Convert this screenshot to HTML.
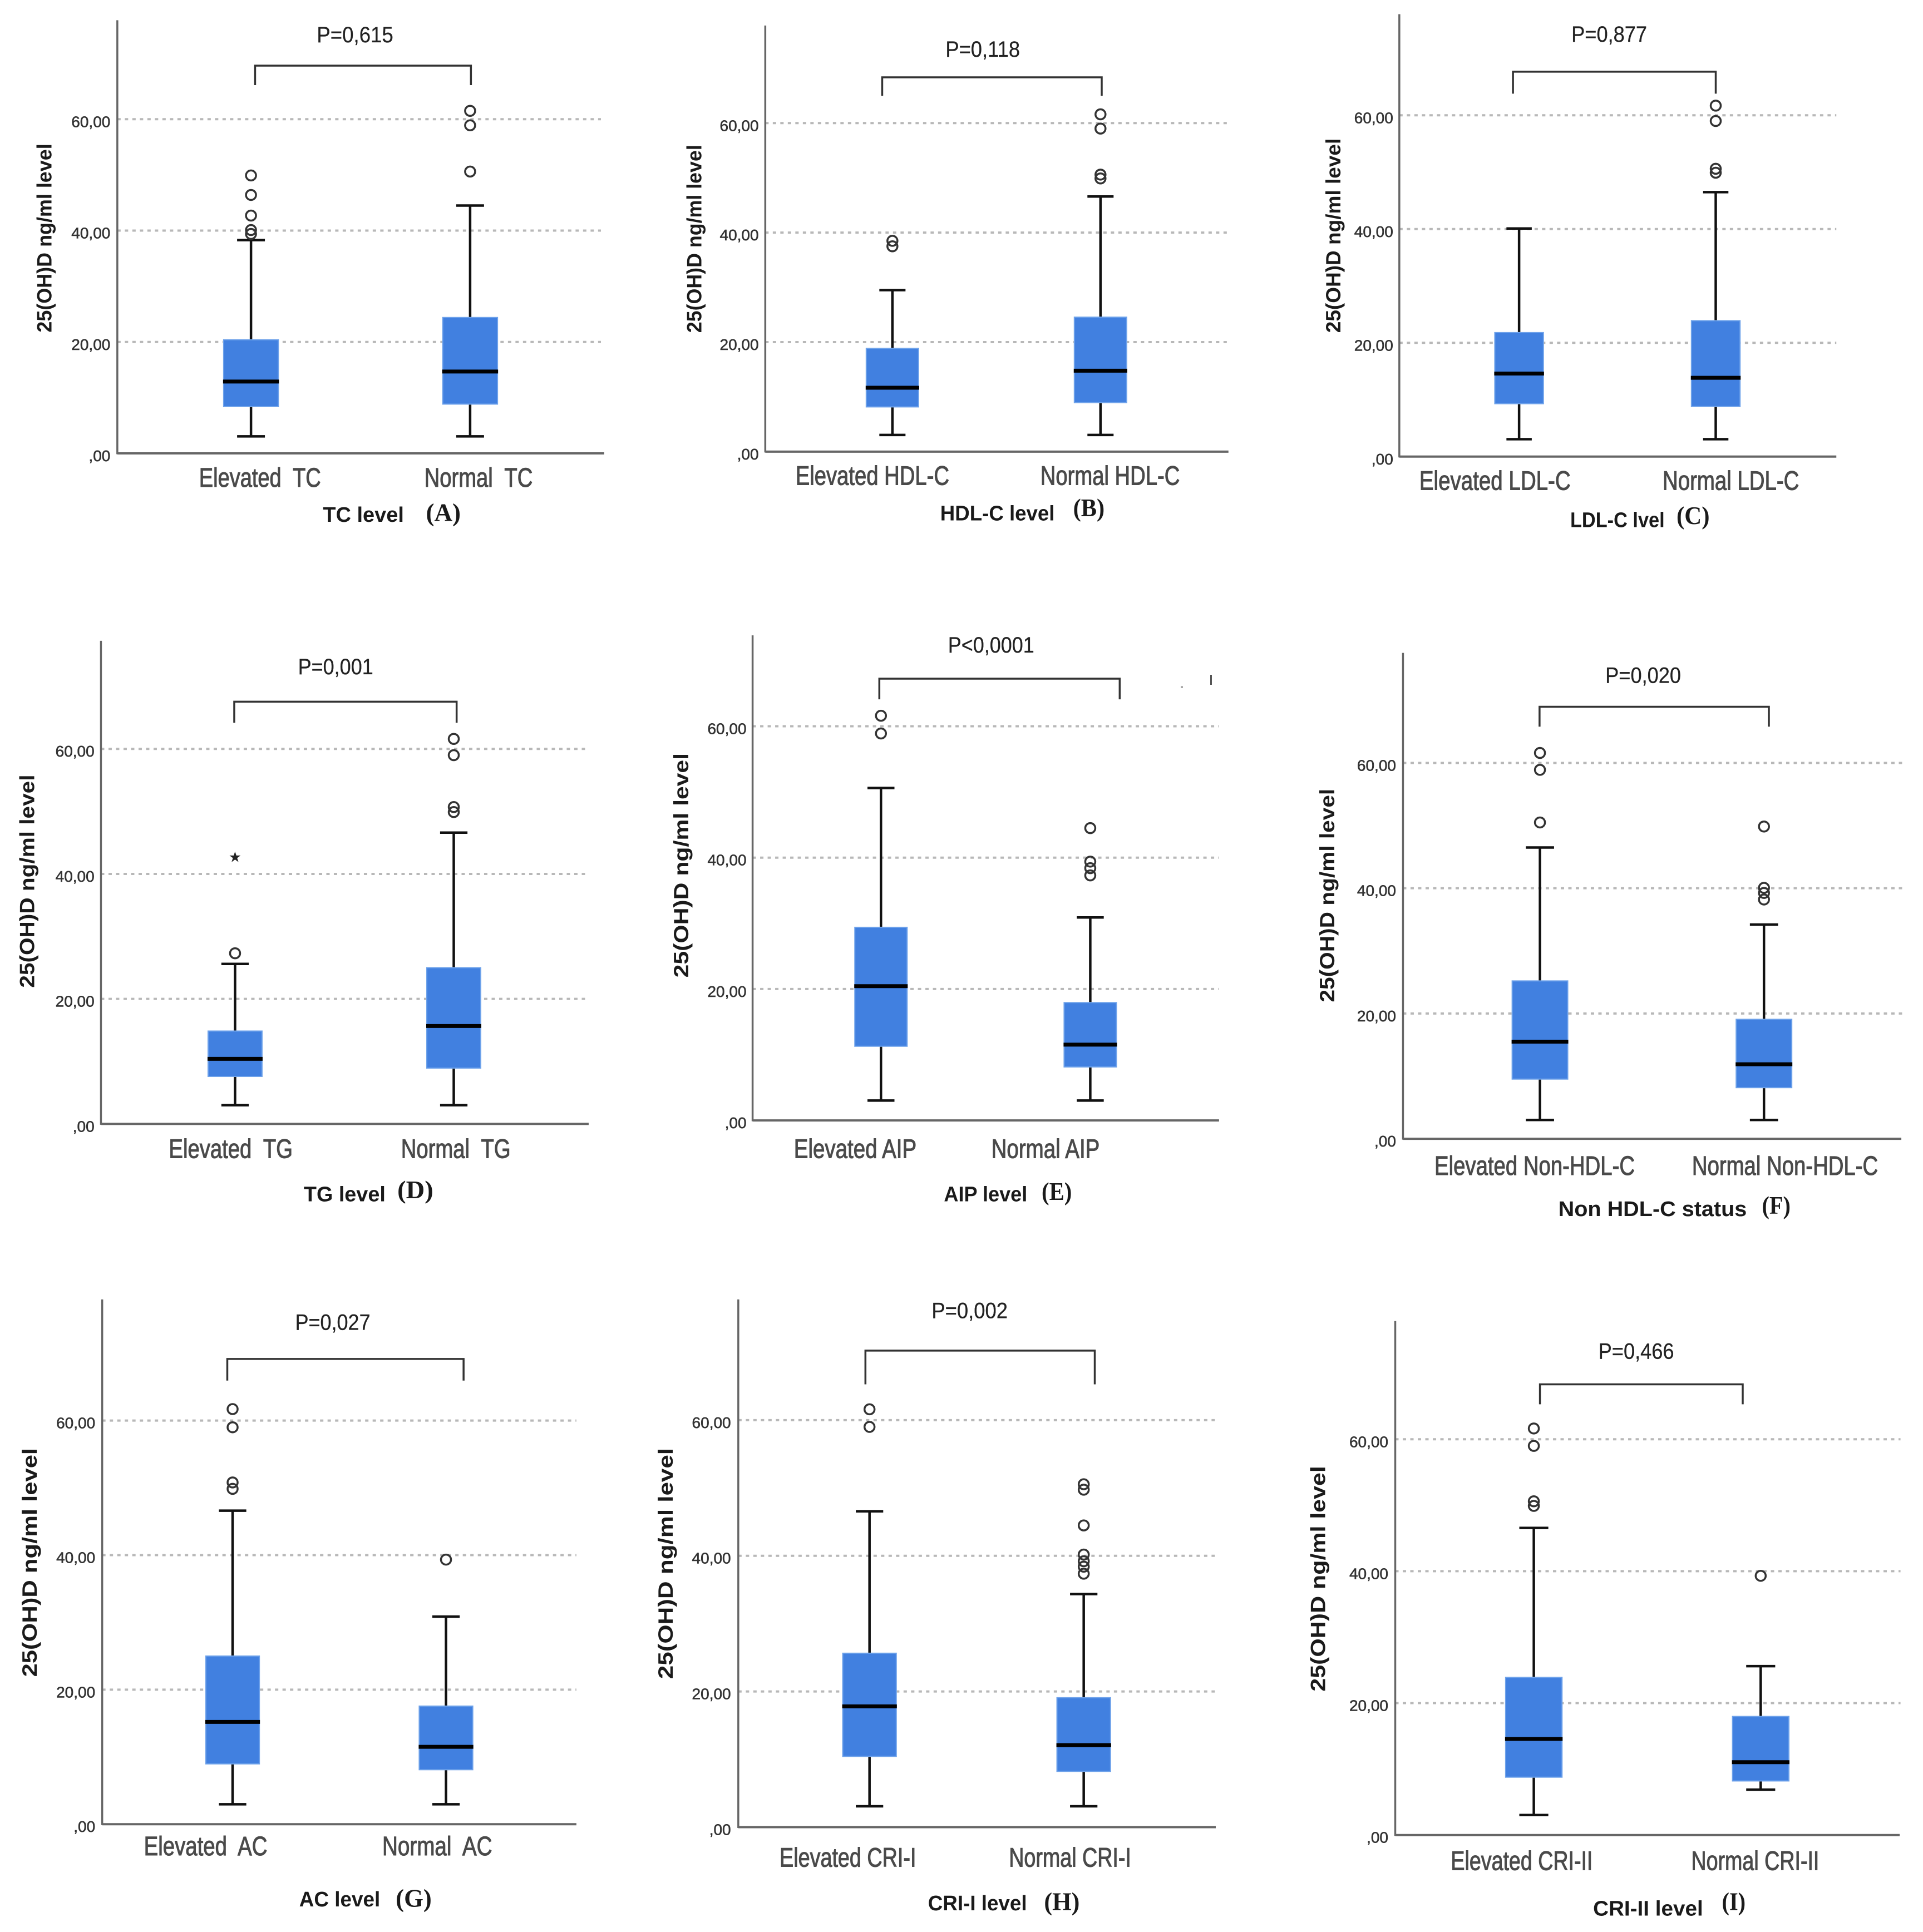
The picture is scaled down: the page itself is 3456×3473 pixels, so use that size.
<!DOCTYPE html>
<html lang="en">
<head>
<meta charset="utf-8">
<title>25(OH)D levels by lipid status – box plots</title>
<style>
html,body{margin:0;padding:0;background:#fff;width:3456px;height:3473px;overflow:hidden}
svg{display:block}
text{white-space:pre;font-family:"Liberation Sans",sans-serif}
</style>
</head>
<body>
<svg id="fig" xmlns="http://www.w3.org/2000/svg" width="3456" height="3473" viewBox="0 0 3456 3473"></svg>
<script>
// ---------- chart data ----------
const tickValues = [0, 20, 40, 60];
const tickLabels = [',00', '20,00', '40,00', '60,00'];
const yAxisTitle = '25(OH)D ng/ml level';
const panelLetters = ['(A)', '(B)', '(C)', '(D)', '(E)', '(F)', '(G)', '(H)', '(I)'];
const pLabels = ['P=0,615', 'P=0,118', 'P=0,877', 'P=0,001', 'P<0,0001', 'P=0,020', 'P=0,027', 'P=0,002', 'P=0,466'];
const xTitles = ['TC level', 'HDL-C level', 'LDL-C lvel', 'TG level', 'AIP level', 'Non HDL-C status', 'AC level', 'CRI-I level', 'CRI-II level'];
const categories = [
  ['Elevated  TC', 'Normal  TC'],
  ['Elevated HDL-C', 'Normal HDL-C'],
  ['Elevated LDL-C', 'Normal LDL-C'],
  ['Elevated  TG', 'Normal  TG'],
  ['Elevated AIP', 'Normal AIP'],
  ['Elevated Non-HDL-C', 'Normal Non-HDL-C'],
  ['Elevated  AC', 'Normal  AC'],
  ['Elevated CRI-I', 'Normal CRI-I'],
  ['Elevated CRI-II', 'Normal CRI-II']
];
const whiskerLow = [[3.06,3.06],[3.05,3.05],[3.06,3.06],[3.0,3.0],[3.03,3.03],[3.0,3.0],[2.97,2.97],[3.07,3.07],[3.03,6.88]];
const quartile1 = [[8.4,8.85],[8.17,8.94],[9.3,8.8],[7.6,8.93],[11.29,8.14],[9.53,8.16],[8.97,8.1],[10.43,8.22],[8.77,8.2]];
const medians = [[12.9,14.7],[11.67,14.78],[14.6,13.85],[10.42,15.67],[20.44,11.53],[15.5,11.9],[15.2,11.5],[17.8,12.09],[14.57,11.04]];
const quartile3 = [[20.4,24.4],[18.86,24.56],[21.8,23.9],[14.86,25.0],[29.4,17.94],[25.2,19.07],[25.0,17.56],[25.64,19.08],[23.9,17.98]];
const whiskerHigh = [[38.3,44.5],[29.5,46.6],[40.1,46.5],[25.6,46.6],[50.6,30.9],[46.5,34.2],[46.6,30.86],[46.56,34.36],[46.56,25.6]];
const outliers = [
  [[49.9,46.4,42.7,40.1,39.4],[61.5,58.9,50.6]],
  [[38.5,37.5],[61.6,59,50.6,49.9]],
  [[],[61.7,59,50.6,49.9]],
  [[27.3],[61.6,59,50.7,49.9]],
  [[61.6,58.9],[44.5,39.4,38.4,37.3]],
  [[61.6,58.9,50.5],[49.85,40.06,39.25,38.2]],
  [[61.7,59,50.8,49.85],[39.33]],
  [[61.6,59],[50.55,49.75,44.48,40.18,39.2,38.4,37.36]],
  [[61.64,59,50.6,49.9],[39.3]]
];
const extremes = [
  [[],[]],[[],[]],[[],[]],
  [[42.7],[]],
  [[],[]],[[],[]],[[],[]],[[],[]],[[],[]]
];

// ---------- panel layout (non-data geometry, in measured crop units) ----------
const KX = 1152 / 1568;
const panelLayouts = [
 {ox:0,oy:0,ky:1000/1568,axisX:287,top:57,base:1278,y60:336,right:1478,gridRight:1470,c0:614,c1:1150,boxW:134,capW:68,tickRight:270,yT:[108,405,937],p:[775,962,97],br:[624,1152,185,240],cat:[[487,785],[1038,1303],1345],xT:[790,988,1449],lt:[1042,1127,1448]},
 {ox:1152,oy:0,ky:1000/1568,axisX:304,top:72,base:1273,y60:347,right:1437,gridRight:1437,c0:615,c1:1124,boxW:128,capW:64,tickRight:288,yT:[130,408,938],p:[745,927,138],br:[590,1127,218,270],cat:[[378,754],[977,1318],1340],xT:[732,1012,1445],lt:[1057,1134,1435]},
 {ox:2304,oy:0,ky:1000/1568,axisX:287,top:40,base:1287,y60:325,right:1356,gridRight:1356,c0:580,c1:1061,boxW:119,capW:62,tickRight:272,yT:[125,390,938],p:[708,893,96],br:[565,1061,202,264],cat:[[336,706],[931,1265],1354],xT:[705,936,1464],lt:[965,1046,1457]},
 {ox:0,oy:1100,ky:1100/1568,axisX:247,top:74,base:1312,y60:351,right:1440,gridRight:1440,c0:575,c1:1110,boxW:132,capW:67,tickRight:231,yT:[66,417,963],p:[729,913,140],br:[573,1117,230,284],cat:[[413,716],[981,1249],1375],xT:[743,943,1490],lt:[972,1060,1484]},
 {ox:1152,oy:1100,ky:1100/1568,axisX:273,top:60,base:1303,y60:293,right:1414,gridRight:1414,c0:587,c1:1099,boxW:128,capW:66,tickRight:258,yT:[98,362,937],p:[751,962,84],br:[583,1171,171,224],cat:[[374,674],[857,1122],1375],xT:[741,945,1490],lt:[980,1054,1488]},
 {ox:2304,oy:1100,ky:1100/1568,axisX:296,top:105,base:1350,y60:387,right:1515,gridRight:1517,c0:631,c1:1179,boxW:136,capW:69,tickRight:279,yT:[110,453,1000],p:[791,976,162],br:[630,1191,243,294],cat:[[373,863],[1003,1458],1418],xT:[676,1137,1528],lt:[1174,1244,1524]},
 {ox:0,oy:2300,ky:1173/1568,axisX:250,top:48,base:1309,y60:339,right:1410,gridRight:1410,c0:569,c1:1091,boxW:131,capW:67,tickRight:233,yT:[72,405,955],p:[722,906,102],br:[556,1134,191,243],cat:[[352,654],[935,1204],1361],xT:[732,930,1488],lt:[968,1056,1490]},
 {ox:1152,oy:2300,ky:1173/1568,axisX:238,top:48,base:1316,y60:338,right:1406,gridRight:1406,c0:559,c1:1083,boxW:131,capW:67,tickRight:220,yT:[60,405,960],p:[711,897,74],br:[549,1110,171,252],cat:[[339,673],[900,1199],1388],xT:[702,944,1497],lt:[986,1073,1498]},
 {ox:2304,oy:2300,ky:1173/1568,axisX:277,top:100,base:1335,y60:384,right:1511,gridRight:1513,c0:616,c1:1171,boxW:138,capW:71,tickRight:260,yT:[88,448,990],p:[774,959,172],br:[631,1127,252,300],cat:[[413,760],[1001,1314],1396],xT:[761,1030,1510],lt:[1076,1134,1498]}
];

// ---------- helpers ----------
const NS = 'http://www.w3.org/2000/svg';
const fig = document.getElementById('fig');
function svgEl(tag, attrs, parent, txt) {
  const el = document.createElementNS(NS, tag);
  for (const k in attrs) el.setAttribute(k, attrs[k]);
  if (txt !== undefined) el.textContent = txt;
  parent.appendChild(el);
  return el;
}

panelLayouts.forEach(function (f, idx) {
  const px = function (z) { return f.ox + z * KX; };
  const py = function (z) { return f.oy + z * f.ky; };
  const yBase = py(f.base);
  const yUnit = (py(f.base) - py(f.y60)) / 60;
  const yScale = function (v) { return yBase - v * yUnit; };
  const xScale = function (i) { return px(f.c0 + i * (f.c1 - f.c0)); };

  const g = svgEl('g', {}, fig);
  
  

  // gridlines and tick labels
  tickValues.forEach(function (t, ti) {
    if (t !== 0) {
      const gl = svgEl('line', {x1: px(f.axisX), x2: px(f.gridRight), y1: yScale(t), y2: yScale(t), stroke: '#b8b8b8', 'stroke-width': 4, 'stroke-dasharray': '6 7.5'}, g);
      
      
    }
    const tl = svgEl('text', {x: px(f.tickRight), y: yScale(t) + 14, 'text-anchor': 'end', 'font-size': 28, fill: '#333', stroke: '#333', 'stroke-width': 0.6}, g, tickLabels[ti]);
    
    
  });

  // axes
  const ya = svgEl('line', {x1: px(f.axisX), x2: px(f.axisX), y1: py(f.top), y2: yBase + 1.5, stroke: '#666', 'stroke-width': 3.5}, g);
  
  
  const xa = svgEl('line', {x1: px(f.axisX), x2: px(f.right), y1: yBase, y2: yBase, stroke: '#666', 'stroke-width': 4}, g);
  
  

  // boxes
  categories[idx].forEach(function (cat, c) {
    const cx = xScale(c);
    const boxW = f.boxW * KX;
    const capW = f.capW * KX;

    const wh = svgEl('line', {x1: cx, x2: cx, y1: yScale(whiskerHigh[idx][c]), y2: yScale(whiskerLow[idx][c]), stroke: '#111', 'stroke-width': 4.5}, g);
    
    

    const capHi = svgEl('line', {x1: cx - capW / 2, x2: cx + capW / 2, y1: yScale(whiskerHigh[idx][c]), y2: yScale(whiskerHigh[idx][c]), stroke: '#111', 'stroke-width': 4.5}, g);
    
    

    const capLo = svgEl('line', {x1: cx - capW / 2, x2: cx + capW / 2, y1: yScale(whiskerLow[idx][c]), y2: yScale(whiskerLow[idx][c]), stroke: '#111', 'stroke-width': 4.5}, g);
    
    

    const box = svgEl('rect', {x: cx - boxW / 2, width: boxW, y: yScale(quartile3[idx][c]), height: yScale(quartile1[idx][c]) - yScale(quartile3[idx][c]), fill: '#4180e0', stroke: '#6ea2ea', 'stroke-width': 2}, g);
    
    

    const med = svgEl('line', {x1: cx - boxW / 2 - 1, x2: cx + boxW / 2 + 1, y1: yScale(medians[idx][c]), y2: yScale(medians[idx][c]), stroke: '#000', 'stroke-width': 7}, g);
    
    

    outliers[idx][c].forEach(function (v) {
      const o = svgEl('circle', {cx: cx, cy: yScale(v), r: 9, fill: 'none', stroke: '#333', 'stroke-width': 3.5}, g);
      
      
    });

    extremes[idx][c].forEach(function (v) {
      const s = svgEl('text', {x: cx, y: yScale(v) + 9, 'text-anchor': 'middle', 'font-size': 26, fill: '#222', style: 'font-family:"DejaVu Sans",sans-serif'}, g, '\u2605');
      
      
    });

    const range = c === 0 ? f.cat[0] : f.cat[1];
    const cl = svgEl('text', {x: px(range[0]), y: py(f.cat[2]) + 17, 'font-size': 48, fill: '#4a4a4a', stroke: '#4a4a4a', 'stroke-width': 1.1, textLength: (range[1] - range[0]) * KX, lengthAdjust: 'spacingAndGlyphs'}, g, cat);
    
    
  });

  // significance bracket
  const b = f.br;
  const br = svgEl('path', {d: 'M' + px(b[0]) + ' ' + py(b[3]) + 'V' + py(b[2]) + 'H' + px(b[1]) + 'V' + py(b[3]), fill: 'none', stroke: '#333', 'stroke-width': 3.5}, g);
  
  

  const pv = svgEl('text', {x: px(f.p[0]), y: py(f.p[2]) + 14, 'font-size': 40, fill: '#222', stroke: '#222', 'stroke-width': 0.3, textLength: (f.p[1] - f.p[0]) * KX, lengthAdjust: 'spacingAndGlyphs'}, g, pLabels[idx]);
  
  

  // y-axis title
  const yx = px(f.yT[0]) + 13;
  const yb = py(f.yT[2]);
  const yt = svgEl('text', {x: yx, y: yb, transform: 'rotate(-90 ' + yx + ' ' + yb + ')', 'font-size': 37, 'font-weight': 'bold', fill: '#1a1a1a', textLength: (f.yT[2] - f.yT[1]) * f.ky, lengthAdjust: 'spacingAndGlyphs'}, g, yAxisTitle);
  
  

  // x-axis title and panel letter
  const xt = svgEl('text', {x: px(f.xT[0]), y: py(f.xT[2]) + 14, 'font-size': 38, 'font-weight': 'bold', fill: '#1a1a1a', textLength: (f.xT[1] - f.xT[0]) * KX, lengthAdjust: 'spacingAndGlyphs'}, g, xTitles[idx]);
  
  

  const lt = svgEl('text', {x: px(f.lt[0]), y: py(f.lt[2]) + 13, 'font-size': 46, 'font-weight': 'bold', fill: '#1a1a1a', style: 'font-family:"Liberation Serif",serif', textLength: (f.lt[1] - f.lt[0]) * KX, lengthAdjust: 'spacingAndGlyphs'}, g, panelLetters[idx]);
  
  
});

// stray scan marks in the upper right of panel E
const speckMark = svgEl('rect', {x: 2175, y: 1213, width: 3, height: 18, fill: '#555'}, fig);


const speckDot = svgEl('rect', {x: 2122, y: 1234, width: 4, height: 2, fill: '#777'}, fig);


</script>
</body>
</html>
